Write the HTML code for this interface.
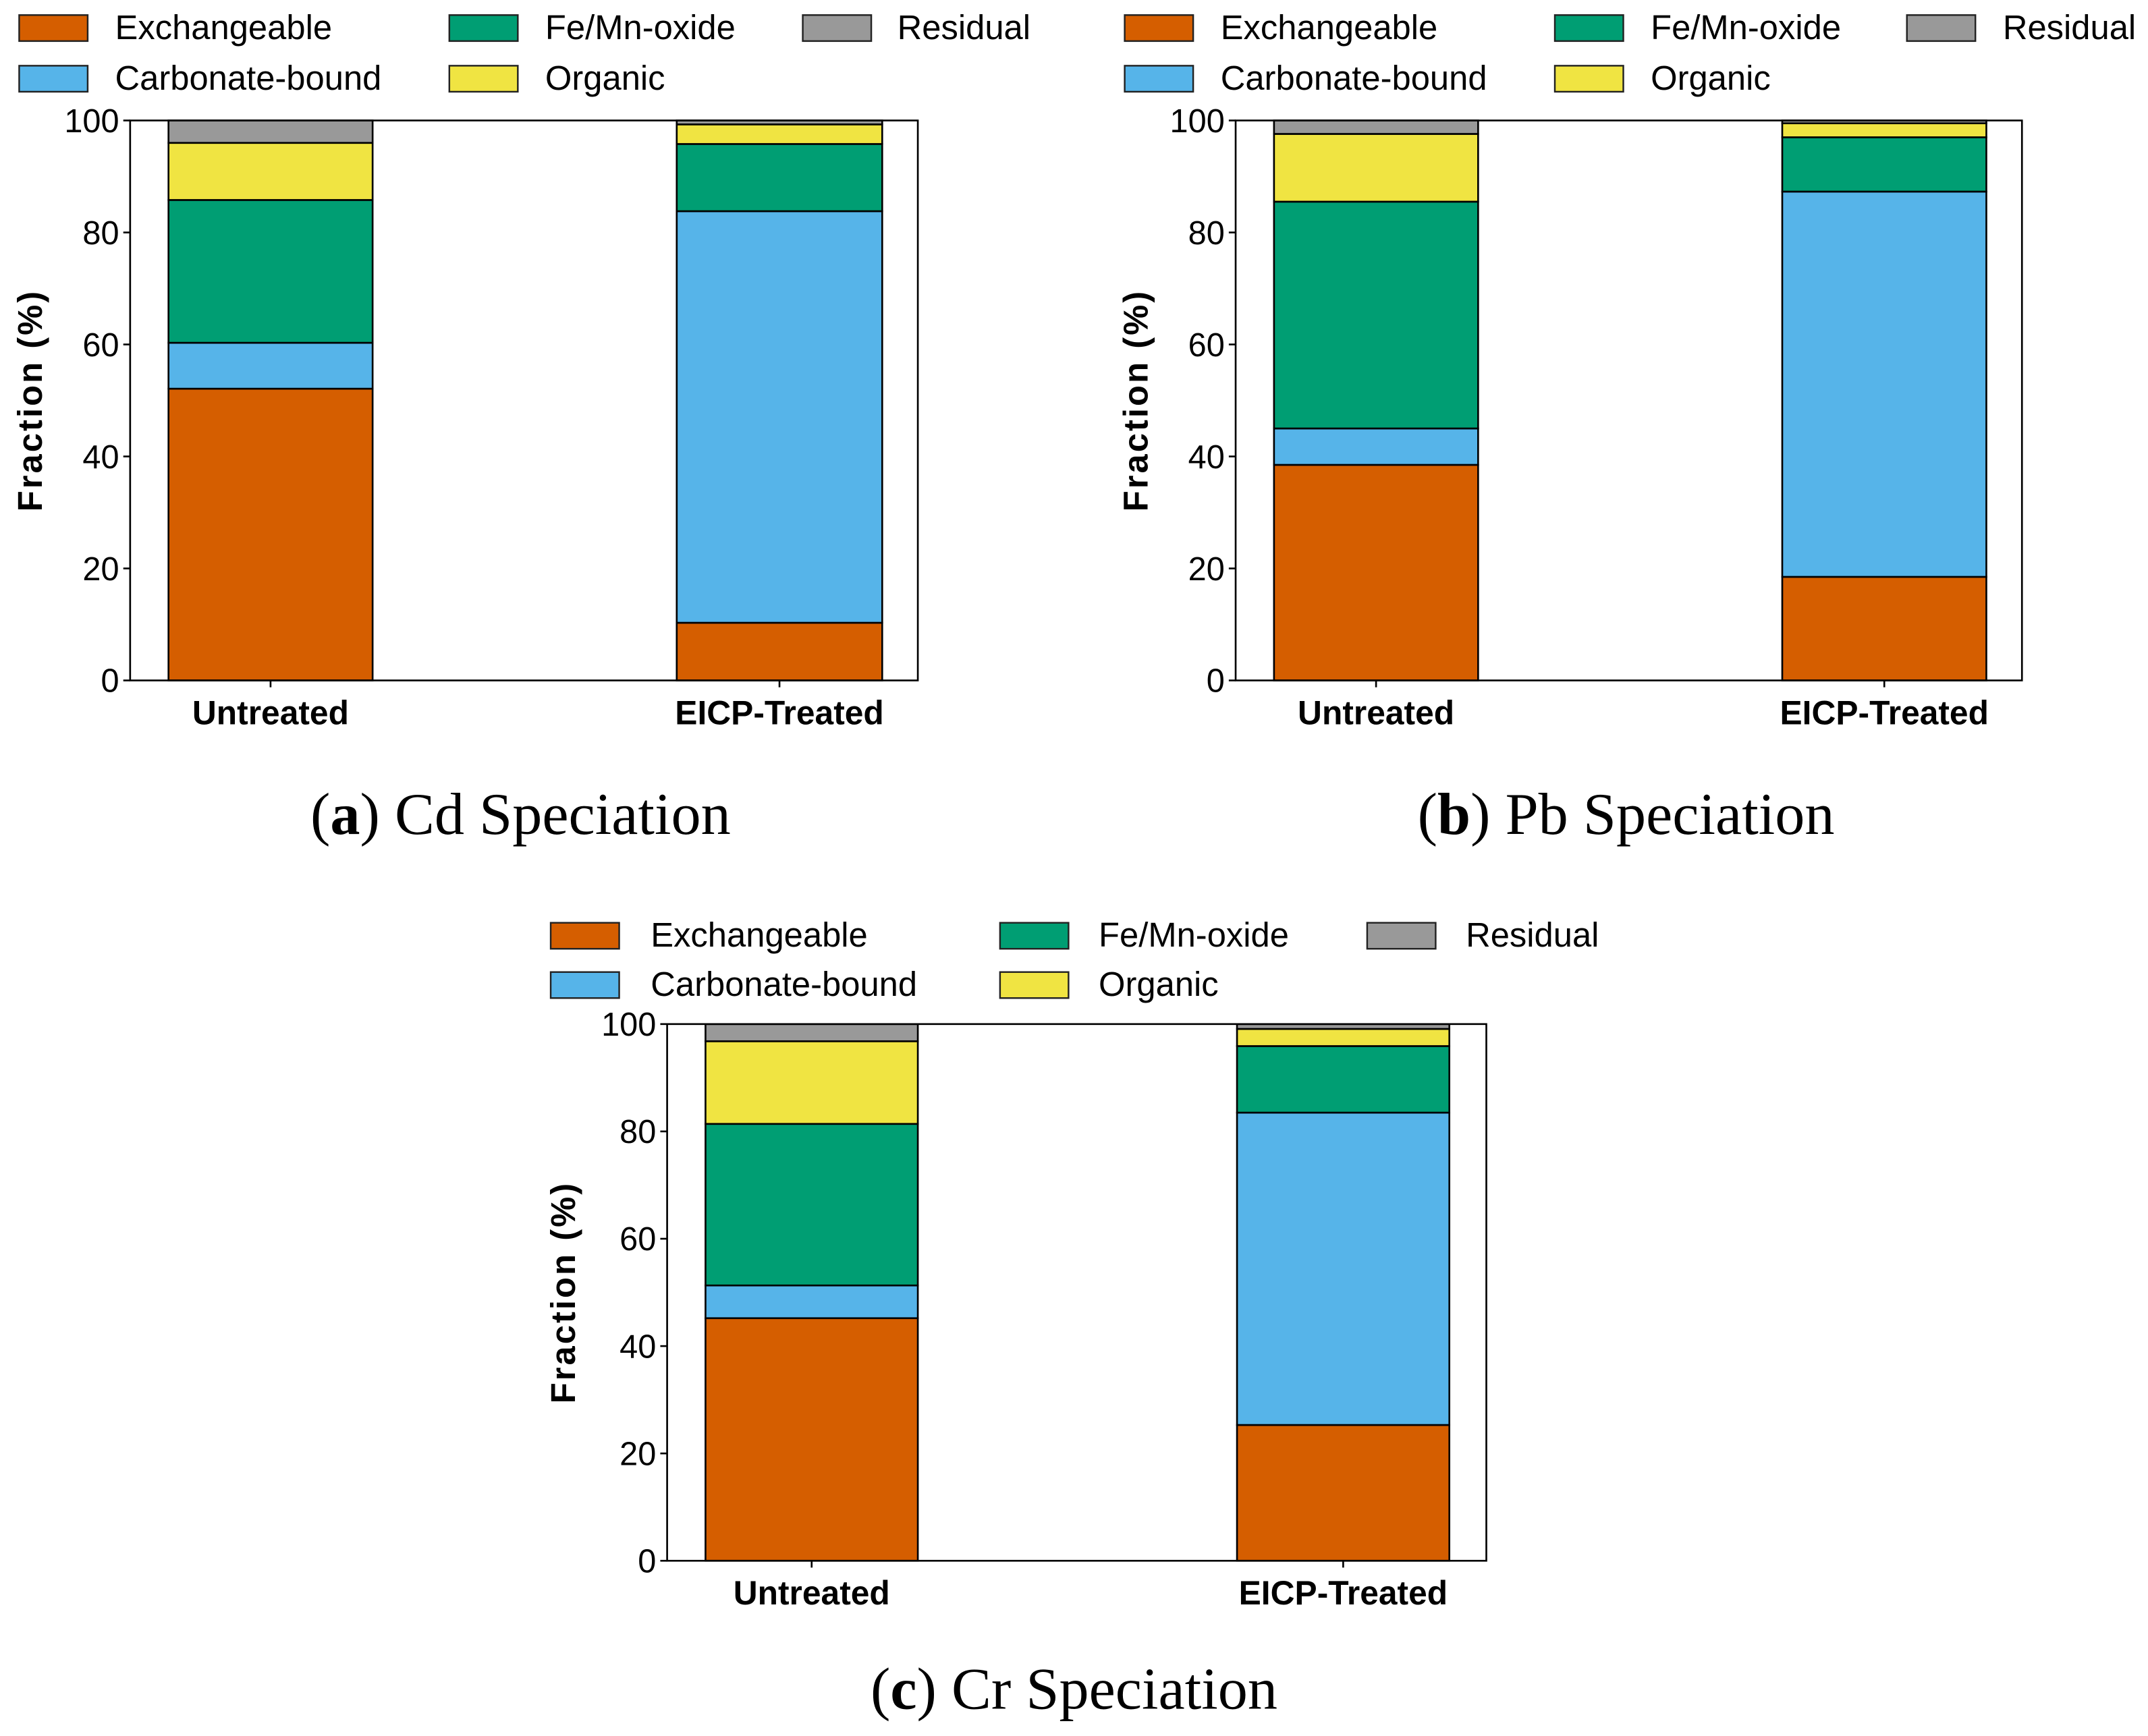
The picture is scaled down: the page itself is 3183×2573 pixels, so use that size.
<!DOCTYPE html>
<html><head><meta charset="utf-8"><style>
html,body{margin:0;padding:0;background:#fff}
svg{display:block}
</style></head><body>
<svg id="fig" width="3183" height="2573" viewBox="0 0 1568 1268" preserveAspectRatio="none" xmlns="http://www.w3.org/2000/svg"></svg>
<script>
const categories = ["Untreated", "EICP-Treated"];
const fractions = ["Exchangeable", "Carbonate-bound", "Fe/Mn-oxide", "Organic", "Residual"];
const colors = ["#d55e00", "#56b4e9", "#009e73", "#f0e442", "#999999"];
const yTicks = [0, 20, 40, 60, 80, 100];
// values per fraction, [Untreated, EICP-Treated]
const cdExchangeable = [52.1, 10.3];
const cdCarbonate = [8.2, 73.5];
const cdFeMn = [25.5, 12.0];
const cdOrganic = [10.2, 3.5];
const cdResidual = [4.0, 0.7];
const pbExchangeable = [38.5, 18.5];
const pbCarbonate = [6.5, 68.8];
const pbFeMn = [40.5, 9.7];
const pbOrganic = [12.1, 2.5];
const pbResidual = [2.4, 0.5];
const crExchangeable = [45.2, 25.3];
const crCarbonate = [6.1, 58.2];
const crFeMn = [30.1, 12.4];
const crOrganic = [15.4, 3.2];
const crResidual = [3.2, 0.9];
const panelTitles = ["Cd Speciation", "Pb Speciation", "Cr Speciation"];
const panelLetters = ["a", "b", "c"];

const panels = [
  {data:[cdExchangeable,cdCarbonate,cdFeMn,cdOrganic,cdResidual], ax:{l:95,r:670,t:88,b:497}, bars:[[123,272],[494,644]], leg:{px:[14,328,586], tx:[84,398,655], ry:[20,57]}, cap:{x:380,y:595}, ylab:22},
  {data:[pbExchangeable,pbCarbonate,pbFeMn,pbOrganic,pbResidual], ax:{l:902,r:1476,t:88,b:497}, bars:[[930,1079],[1301,1450]], leg:{px:[821,1135,1392], tx:[891,1205,1462], ry:[20,57]}, cap:{x:1187,y:595}, ylab:829},
  {data:[crExchangeable,crCarbonate,crFeMn,crOrganic,crResidual], ax:{l:487,r:1085,t:748,b:1140}, bars:[[515,670],[903,1058]], leg:{px:[402,730,998], tx:[475,802,1070], ry:[683,719]}, cap:{x:784,y:1234}, ylab:411}
];
const NS = "http://www.w3.org/2000/svg";
const svg = document.getElementById("fig");
function mk(tag, attrs, parent){ const e=document.createElementNS(NS,tag); for(const k in attrs) e.setAttribute(k,attrs[k]); (parent||svg).appendChild(e); return e; }
const sans = '"Liberation Sans", Arial, sans-serif';
const serif = '"Liberation Serif", "Times New Roman", serif';
const legPos = [[0,0],[0,1],[1,0],[1,1],[2,0]];

panels.forEach((p, pi) => {
  const g = mk("g", {});
  
  
  const a = p.ax;
  const yScale = v => a.b - (v/100)*(a.b-a.t);
  categories.forEach((c, ci) => {
    let cum = 0;
    p.data.forEach((series, si) => {
      const v = series[ci];
      const y0 = yScale(cum), y1 = yScale(cum+v);
      const r = mk("rect", {x:p.bars[ci][0], y:y1, width:p.bars[ci][1]-p.bars[ci][0], height:y0-y1, fill:colors[si], stroke:"#000", "stroke-width":1.3}, g);
      
      
      cum += v;
    });
  });
  const fr = mk("rect", {x:a.l, y:a.t, width:a.r-a.l, height:a.b-a.t, fill:"none", stroke:"#000", "stroke-width":1.3}, g);
  
  
  yTicks.forEach(t => {
    const y = yScale(t);
    mk("line", {x1:a.l-5, x2:a.l, y1:y, y2:y, stroke:"#000", "stroke-width":1.3}, g);
    const tx = mk("text", {x:a.l-8, y:y+8.5, "text-anchor":"end", "font-family":sans, "font-size":24, fill:"#000"}, g);
    tx.textContent = t;
    
    
  });
  categories.forEach((c, ci) => {
    const x = (p.bars[ci][0]+p.bars[ci][1])/2;
    mk("line", {x1:x, x2:x, y1:a.b, y2:a.b+5, stroke:"#000", "stroke-width":1.3}, g);
    const tx = mk("text", {x:x, y:a.b+32, "text-anchor":"middle", "font-family":sans, "font-size":24.5, "font-weight":"bold", fill:"#000"}, g);
    tx.textContent = c;
    
    
  });
  const cy = (a.t+a.b)/2;
  const yl = mk("text", {x:p.ylab, y:cy, transform:`rotate(-90 ${p.ylab} ${cy})`, "text-anchor":"middle", "dominant-baseline":"central", "font-family":sans, "font-size":25, "font-weight":"bold", "letter-spacing":1.5, fill:"#000"}, g);
  yl.textContent = "Fraction (%)";
  
  
  fractions.forEach((f, si) => {
    const [col,row] = legPos[si];
    const y = p.leg.ry[row];
    const pr = mk("rect", {x:p.leg.px[col], y:y-9, width:50, height:19, fill:colors[si], stroke:"#222", "stroke-width":1.2}, g);
    
    
    const lt = mk("text", {x:p.leg.tx[col], y:y+8.5, "font-family":sans, "font-size":25, fill:"#000"}, g);
    lt.textContent = f;
    
    
  });
  const cp = mk("text", {x:p.cap.x, y:p.cap.y+14, "text-anchor":"middle", "font-family":serif, "font-size":43.5, fill:"#000"}, g);
  
  
  const t1 = mk("tspan", {}, cp); t1.textContent = "(";
  const t2 = mk("tspan", {"font-weight":"bold"}, cp); t2.textContent = panelLetters[pi];
  const t3 = mk("tspan", {}, cp); t3.textContent = ") " + panelTitles[pi];
});
</script>
</body></html>
